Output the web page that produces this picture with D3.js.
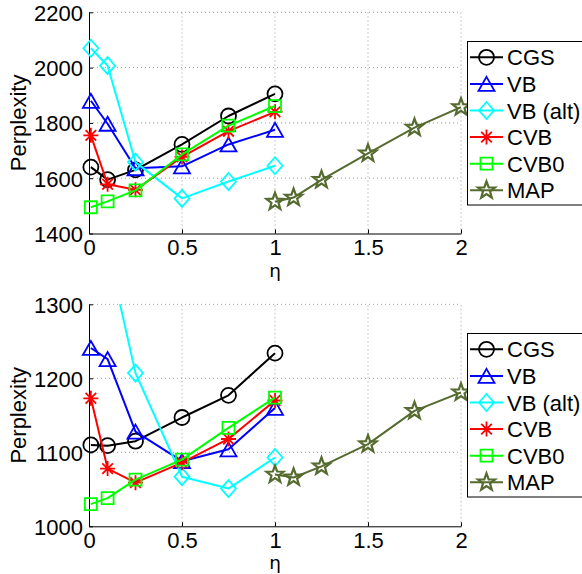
<!DOCTYPE html>
<html>
<head>
<meta charset="utf-8">
<script src="https://cdn.jsdelivr.net/npm/d3@7"></script>
<style>
html,body{margin:0;padding:0;background:#fff;}
svg{display:block;}
</style>
</head>
<body>
<svg id="chart" width="582" height="574"></svg>
<script>
// ---------- data ----------
const etaMain = [0.01, 0.1, 0.25, 0.5, 0.75, 1];
const etaMAP  = [1, 1.1, 1.25, 1.5, 1.75, 2];
const seriesNames = ["CGS", "VB", "VB (alt)", "CVB", "CVB0", "MAP"];

// top panel
const topCGS   = [1640, 1595, 1630, 1722, 1825, 1905];
const topVB    = [1880, 1797, 1636, 1643, 1722, 1775];
const topVBalt = [2070, 2007, 1658, 1527, 1588, 1645];
const topCVB   = [1755, 1578, 1558, 1677, 1770, 1840];
const topCVB0  = [1495, 1516, 1556, 1686, 1790, 1861];
const topMAP   = [1515, 1530, 1594, 1690, 1783, 1857];

// bottom panel
const botCGS   = [1110, 1109, 1115, 1147, 1177, 1234];
const botVB    = [1241, 1226, 1128, 1088, 1104, 1160];
const botVBalt = [1420, 1375, 1207, 1067, 1051, 1093];
const botCVB   = [1173, 1078, 1059, 1086, 1118, 1170];
const botCVB0  = [1030, 1038, 1063, 1090, 1133, 1174];
const botMAP   = [1070, 1066, 1081, 1111, 1156, 1181];

const xTicks = [0, 0.5, 1, 1.5, 2];
const xTickLabels = ["0", "0.5", "1", "1.5", "2"];
const topYTicks = [1400, 1600, 1800, 2000, 2200];
const botYTicks = [1000, 1100, 1200, 1300];
const xLabel = "η";
const yLabel = "Perplexity";

// ---------- styles ----------
const colors = ["#000000", "#0000ff", "#00ffff", "#ff0000", "#00ff00", "#556b2f"];
const markers = ["circle", "triangle", "diamond", "asterisk", "square", "star"];
const SANS = '"Liberation Sans",Arial,Helvetica,sans-serif';

function markerPath(type) {
  switch (type) {
    case "circle": return d3.symbol(d3.symbolCircle, Math.PI * 7.5 * 7.5)();
    case "triangle": return "M0,-7L8,7L-8,7Z";
    case "diamond": return "M0,-8.5L7.5,0L0,8.5L-7.5,0Z";
    case "square": return "M-6,-6L6,-6L6,6L-6,6Z";
    case "asterisk": return "M0,-7.5L0,7.5M-7.5,0L7.5,0M-5.3,-5.3L5.3,5.3M-5.3,5.3L5.3,-5.3";
    case "star": {
      let p = "";
      for (let i = 0; i < 10; i++) {
        const r = i % 2 === 0 ? 9 : 3.7;
        const a = -Math.PI / 2 + i * Math.PI / 5;
        p += (i === 0 ? "M" : "L") + (r * Math.cos(a)).toFixed(2) + "," + (r * Math.sin(a)).toFixed(2);
      }
      return p + "Z";
    }
  }
}

const svg = d3.select("#chart");
const FONT = 22;

function panel(opts) {
  const { yDomain, yRange, yTicks, data, legendTop, id } = opts;
  const x = d3.scaleLinear().domain([0, 2]).range([89, 461]);
  const y = d3.scaleLinear().domain(yDomain).range(yRange);
  const g = svg.append("g");

  // grid
  const grid = g.append("g").attr("stroke", "#9a9a9a").attr("stroke-width", 1)
    .attr("stroke-dasharray", "1,3").attr("fill", "none");
  xTicks.filter(t => t > 0).forEach(t => {
    grid.append("line").attr("x1", x(t)).attr("x2", x(t)).attr("y1", y.range()[0]).attr("y2", y.range()[1]);
  });
  yTicks.filter(t => t > yDomain[0]).forEach(t => {
    grid.append("line").attr("x1", x(0)).attr("x2", x(2)).attr("y1", y(t)).attr("y2", y(t));
  });

  // axes (d3 axes, inward ticks)
  const xAxis = d3.axisBottom(x).tickValues(xTicks).tickSizeInner(-4).tickSizeOuter(0)
    .tickPadding(10).tickFormat((d, i) => xTickLabels[i]);
  const yAxis = d3.axisLeft(y).tickValues(yTicks).tickSizeInner(-4).tickSizeOuter(0)
    .tickPadding(10).tickFormat(d3.format("d"));
  const gx = g.append("g").attr("transform", `translate(0,${y.range()[0]})`).call(xAxis);
  const gy = g.append("g").attr("transform", `translate(${x(0)},0)`).call(yAxis);
  [gx, gy].forEach(a => {
    a.attr("font-family", SANS).attr("font-size", FONT);
    a.selectAll("text").attr("fill", "#000");
    a.selectAll("line").attr("stroke", "#000");
    a.select(".domain").attr("stroke", "#000");
  });
  gy.selectAll(".tick text").attr("x", -6).attr("dy", "0.36em");
  gx.selectAll(".tick text").attr("y", 0).attr("dy", 0)
    .attr("transform", "translate(0,21.5)");

  // axis labels
  g.append("text").attr("x", (x(0) + x(2)) / 2).attr("y", y.range()[0] + 43)
    .attr("text-anchor", "middle").attr("font-size", 18.5)
    .attr("font-family", '"DejaVu Sans",sans-serif').text(xLabel);
  g.append("text")
    .attr("transform", `translate(26,${(y.range()[0] + y.range()[1]) / 2}) rotate(-90)`)
    .attr("text-anchor", "middle").attr("font-size", FONT).attr("font-family", SANS).text(yLabel);

  // clip for lines
  svg.append("clipPath").attr("id", "clip" + id).append("rect")
    .attr("x", x(0)).attr("y", y.range()[1]).attr("width", x(2) - x(0))
    .attr("height", y.range()[0] - y.range()[1]);

  const line = d3.line().x(d => x(d[0])).y(d => y(d[1]));
  data.forEach((vals, si) => {
    const xs = si === 5 ? etaMAP : etaMain;
    const pts = xs.map((e, i) => [e, vals[i]]);
    g.append("path").attr("d", line(pts)).attr("fill", "none")
      .attr("stroke", colors[si]).attr("stroke-width", 2)
      .attr("stroke-linejoin", "round").attr("clip-path", `url(#clip${id})`);
    g.selectAll(null).data(pts.filter(p => p[1] >= yDomain[0] && p[1] <= yDomain[1]))
      .enter().append("path")
      .attr("d", markerPath(markers[si]))
      .attr("transform", p => `translate(${x(p[0])},${y(p[1])})`)
      .attr("fill", "none").attr("stroke", colors[si]).attr("stroke-width", si === 5 ? 2.2 : 1.8)
      .attr("stroke-linejoin", "miter");
  });

  // legend
  const lg = g.append("g");
  lg.append("rect").attr("x", 467.5).attr("y", legendTop).attr("width", 130).attr("height", 163.5)
    .attr("fill", "#fff").attr("stroke", "#000").attr("stroke-width", 1);
  seriesNames.forEach((name, i) => {
    const cy = legendTop + 15.8 + i * 26.6;
    lg.append("line").attr("x1", 470).attr("x2", 503).attr("y1", cy).attr("y2", cy)
      .attr("stroke", colors[i]).attr("stroke-width", 2);
    lg.append("path").attr("d", markerPath(markers[i]))
      .attr("transform", `translate(486.5,${cy})`).attr("fill", "none")
      .attr("stroke", colors[i]).attr("stroke-width", i === 5 ? 2.2 : 1.8);
    lg.append("text").attr("x", 507).attr("y", cy + 8).attr("font-size", FONT)
      .attr("font-family", SANS).text(name);
  });
}

panel({ id: "top", yDomain: [1400, 2200], yRange: [233.5, 12.3], yTicks: topYTicks,
  data: [topCGS, topVB, topVBalt, topCVB, topCVB0, topMAP], legendTop: 41.5 });
panel({ id: "bot", yDomain: [1000, 1300], yRange: [526.3, 304.3], yTicks: botYTicks,
  data: [botCGS, botVB, botVBalt, botCVB, botCVB0, botMAP], legendTop: 333.5 });
</script>
</body>
</html>
